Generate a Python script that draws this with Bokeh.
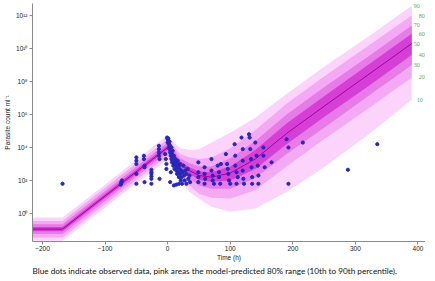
from bokeh.plotting import figure
from bokeh.models import FixedTicker, LabelSet, ColumnDataSource, Title
from bokeh.embed import file_html
from bokeh.resources import INLINE

# model-predicted percentiles (log10 parasite count) at time points (h)
times = [-218, -168, -120, -60, 0, 10, 20, 35, 50, 70, 100, 140, 190, 250, 320, 390]
p90 = [-0.25, -0.25, 1.17, 2.94, 4.75, 4.30, 3.95, 3.85, 3.90, 4.30, 4.90, 5.80, 7.25, 8.90, 10.70, 12.60]
p80 = [-0.45, -0.45, 0.97, 2.74, 4.50, 4.05, 3.60, 3.40, 3.30, 3.40, 3.95, 5.05, 6.65, 8.30, 10.15, 12.00]
p70 = [-0.65, -0.65, 0.77, 2.54, 4.30, 3.83, 3.35, 3.05, 2.85, 2.85, 3.35, 4.40, 6.00, 7.65, 9.50, 11.40]
p60 = [-0.82, -0.82, 0.60, 2.37, 4.13, 3.65, 3.15, 2.80, 2.55, 2.50, 2.85, 3.85, 5.45, 7.10, 9.00, 10.90]
p50 = [-0.95, -0.95, 0.47, 2.24, 4.00, 3.50, 3.00, 2.60, 2.30, 2.20, 2.45, 3.30, 4.85, 6.50, 8.40, 10.30]
p40 = [-1.08, -1.08, 0.34, 2.11, 3.87, 3.35, 2.85, 2.40, 2.05, 1.92, 2.00, 2.70, 4.20, 5.85, 7.70, 9.60]
p30 = [-1.25, -1.25, 0.17, 1.94, 3.70, 3.15, 2.60, 2.10, 1.70, 1.50, 1.50, 2.15, 3.60, 5.20, 7.10, 9.00]
p20 = [-1.45, -1.45, -0.03, 1.74, 3.50, 2.90, 2.30, 1.70, 1.20, 0.95, 0.90, 1.40, 2.85, 4.50, 6.35, 8.25]
p10 = [-1.65, -1.65, -0.23, 1.54, 3.25, 2.60, 1.95, 1.30, 0.90, 0.40, 0.10, 0.30, 1.30, 2.80, 4.75, 6.90]

# observed data (time h, log10 parasite count)
obs_t = [-168, -75, -74, -73, -74, -50, -50, -50, -50, -50, -38, -38, -37, -37, -37,
         -26, -26, -26, -26, -26, -26, -14, -14, -14, -14, -13, -13, -4, -3, -2, -2,
         -1, 0, 0, 1, 1, 2, 2, 3, 3, 4, 4, 5, 5, 6, 6, 7, 7, 8, 8, 9, 9, 10, 10, 11,
         12, 12, 13, 14, 15, 15, 16, 16, 17, 18, 18, 19, 20, 20, 21, 22, 22, 23, 24,
         25, 26, 27, 28, 30, 30, 32, 33, 35, 36, 5, 4, 10, 14, 18,
         49, 49, 49, 49, 59, 59, 59, 60, 70, 70, 72, 72, 74, 80, 82, 82, 84, 85,
         93, 95, 96, 97, 98, 100, 107, 108, 108, 110, 110, 112,
         118, 120, 120, 120, 121, 122, 130, 131, 132, 133, 134, 135, 135,
         140, 142, 144, 145, 145, 153, 153, 155, 166, 190, 193, 193, 216, 288, 335]
obs_log = [1.8, 1.75, 1.9, 2.0, 1.85, 3.4, 3.2, 3.0, 2.4, 1.8, 3.5, 3.3, 2.9, 2.8, 1.9,
           2.65, 2.5, 2.4, 2.25, 2.1, 1.8, 4.1, 3.9, 3.7, 3.5, 3.3, 2.1, 3.6, 3.3, 3.0, 2.7,
           4.6, 4.5, 4.3, 4.55, 4.4, 4.2, 4.0, 4.35, 3.9, 4.1, 3.7, 3.8, 3.5, 4.0, 3.3, 3.6, 3.1, 3.8, 3.4, 3.2, 2.9, 3.5, 3.0, 2.7,
           3.3, 2.9, 3.1, 2.6, 3.0, 2.4, 3.2, 2.8, 2.5, 2.9, 2.2, 2.7, 3.0, 2.4, 2.0, 2.6, 2.2, 1.8, 2.5,
           2.9, 2.3, 2.0, 2.6, 2.4, 1.8, 2.7, 2.1, 2.3, 1.9, 2.5, 1.9, 1.7, 1.75, 1.8,
           3.1, 2.5, 2.2, 1.9, 2.8, 2.4, 1.8, 2.1, 3.3, 2.6, 2.3, 2.0, 1.8, 2.9, 2.5, 2.2, 1.8, 3.0,
           3.6, 3.0, 2.7, 2.4, 2.0, 1.8, 4.2, 3.5, 2.9, 2.5, 1.8, 2.2,
           4.6, 3.9, 3.2, 2.6, 2.1, 1.8, 4.8, 4.6, 3.9, 3.3, 2.8, 2.2, 1.8,
           4.3, 3.5, 2.9, 2.3, 1.8, 4.0, 3.5, 2.8, 3.1, 4.5, 4.0, 1.8, 4.3, 2.65, 4.2]

y_ticks = [0, 2, 4, 6, 8, 10, 12]
y_tick_labels = ["10⁰", "10²", "10⁴", "10⁶", "10⁸", "10¹⁰", "10¹²"]
x_ticks = [-200, -100, 0, 100, 200, 300, 400]
pct_labels = ["90", "80", "70", "60", "50", "40", "30", "20", "10"]
caption = "Blue dots indicate observed data, pink areas the model-predicted 80% range (10th to 90th percentile)."

p = figure(frame_width=393, frame_height=238, x_range=(-216, 412), y_range=(-1.7, 12.73),
           output_backend="svg", toolbar_location=None,
           min_border_left=0, min_border_right=0, min_border_top=3, min_border_bottom=0)
p.outline_line_color = None
p.grid.visible = False
p.background_fill_color = "white"

band_colors = ["#fbd3fb", "#f3a9f3", "#e77be7", "#d63fd6"]
for lo, hi, c in [(p10, p90, band_colors[0]), (p20, p80, band_colors[1]),
                  (p30, p70, band_colors[2]), (p40, p60, band_colors[3])]:
    p.varea(x=times, y1=lo, y2=hi, fill_color=c)
p.line(times, p50, line_color="#a400a4", line_width=1)

p.scatter(obs_t, obs_log, size=3.2, fill_color="#2727b8", line_color="#2727b8")

# percentile labels at the right end of the bands
ends = [p90[-1], p80[-1], p70[-1], p60[-1], p50[-1], p40[-1], p30[-1], p20[-1], p10[-1]]
src = ColumnDataSource(dict(x=[times[-1]] * 9, y=ends, t=pct_labels,
                            dx=[2, 7, 2, 7, 2, 7, 2, 7, 5]))
p.add_layout(LabelSet(x="x", y="y", text="t", x_offset="dx", source=src,
                      text_font="Liberation Sans", text_font_size="6px",
                      text_color="#5aa85a", text_baseline="middle"))

for ax in (p.xaxis[0], p.yaxis[0]):
    ax.axis_line_color = "#8a8a8a"
    ax.major_tick_line_color = "#8a8a8a"
    ax.minor_tick_line_color = None
    ax.major_tick_in = 0
    ax.major_tick_out = 3
    ax.major_label_text_font = "Liberation Sans"
    ax.major_label_text_font_size = "6.5px"
    ax.major_label_text_color = "#222222"
    ax.axis_label_text_font = "Liberation Sans"
    ax.axis_label_text_font_size = "6.5px"
    ax.axis_label_text_font_style = "normal"
    ax.axis_label_text_color = "#222222"
    ax.major_label_standoff = 2
    ax.axis_label_standoff = 2
p.xaxis.major_label_standoff = 1
p.xaxis.axis_label_standoff = 0

p.xaxis.ticker = FixedTicker(ticks=x_ticks)
p.yaxis.ticker = FixedTicker(ticks=y_ticks)
p.yaxis.major_label_overrides = dict(zip(y_ticks, y_tick_labels))
p.yaxis.major_label_orientation = "horizontal"
p.xaxis.axis_label = "Time (h)"
p.yaxis.axis_label = "Parasite count ml⁻¹"

p.add_layout(Title(text=caption, align="left", standoff=0, offset=0,
                   text_font="Lato", text_font_size="8.2px", text_font_style="normal",
                   text_color="#111111"), "below")

open("out.html", "w").write(file_html(p, INLINE))
